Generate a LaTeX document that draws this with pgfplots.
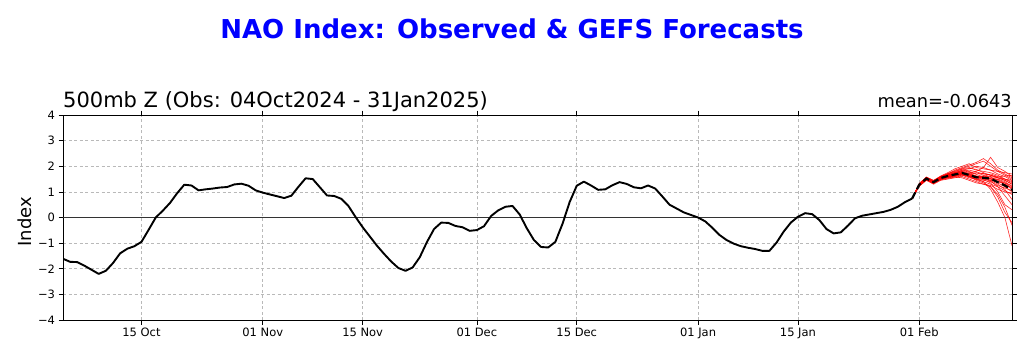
\documentclass[border=0pt]{standalone}
\usepackage{pgfplots}
\pgfplotsset{compat=1.18}
\usepackage{pgfplotstable}
\usepackage{fontspec}
\setmainfont{DejaVu Sans}
\definecolor{titleblue}{RGB}{0,0,255}
\definecolor{ensred}{RGB}{255,0,0}

% observed NAO index, day = days since 1 Oct 2024
\pgfplotstableread{
d v
3 -1.61
4 -1.73
5 -1.74
6 -1.88
7 -2.04
8 -2.20
9 -2.08
10 -1.78
11 -1.40
12 -1.22
13 -1.12
14 -0.95
15 -0.48
16 0.00
17 0.27
18 0.57
19 0.95
20 1.28
21 1.25
22 1.06
23 1.10
24 1.13
25 1.17
26 1.19
27 1.29
28 1.32
29 1.24
30 1.06
31 0.97
32 0.90
33 0.83
34 0.76
35 0.85
36 1.20
37 1.53
38 1.50
39 1.18
40 0.86
41 0.84
42 0.73
43 0.45
44 0.02
45 -0.38
46 -0.74
47 -1.10
48 -1.42
49 -1.72
50 -1.97
51 -2.08
52 -1.95
53 -1.55
54 -0.96
55 -0.45
56 -0.20
57 -0.21
58 -0.33
59 -0.38
60 -0.52
61 -0.49
62 -0.34
63 0.06
64 0.28
65 0.42
66 0.45
67 0.12
68 -0.42
69 -0.88
70 -1.15
71 -1.17
72 -0.95
73 -0.25
74 0.60
75 1.24
76 1.40
77 1.25
78 1.08
79 1.10
80 1.26
81 1.38
82 1.31
83 1.18
84 1.14
85 1.25
86 1.13
87 0.82
88 0.50
89 0.35
90 0.20
91 0.10
92 0.00
93 -0.15
94 -0.40
95 -0.68
96 -0.88
97 -1.02
98 -1.12
99 -1.18
100 -1.23
101 -1.30
102 -1.30
103 -0.98
104 -0.55
105 -0.20
106 0.03
107 0.17
108 0.13
109 -0.10
110 -0.45
111 -0.62
112 -0.58
113 -0.32
114 -0.03
115 0.07
116 0.12
117 0.17
118 0.22
119 0.30
120 0.42
121 0.60
122 0.74
}\obs

% GEFS ensemble members
\pgfplotstableread{
d m1 m2 m3 m4 m5 m6 m7 m8 m9 m10 m11 m12 m13 m14 m15 m16 m17 m18 m19 m20 m21 m22 m23 m24 m25 m26
122 0.74 0.74 0.74 0.74 0.74 0.74 0.74 0.74 0.74 0.74 0.74 0.74 0.74 0.74 0.74 0.74 0.74 0.74 0.74 0.74 0.74 0.74 0.74 0.74 0.74 0.74
123 1.30 1.25 1.32 1.22 1.28 1.26 1.30 1.27 1.29 1.24 1.31 1.28 1.33 1.23 1.29 1.27 1.30 1.26 1.28 1.25 1.32 1.29 1.27 1.30 1.26 1.28
124 1.55 1.48 1.58 1.45 1.52 1.50 1.56 1.50 1.53 1.47 1.54 1.51 1.57 1.46 1.52 1.49 1.55 1.50 1.52 1.48 1.56 1.53 1.51 1.54 1.49 1.52
125 1.40 1.35 1.45 1.30 1.42 1.36 1.44 1.38 1.39 1.33 1.40 1.37 1.44 1.32 1.40 1.36 1.41 1.37 1.39 1.35 1.43 1.38 1.37 1.42 1.35 1.40
126 1.58 1.50 1.60 1.45 1.56 1.52 1.62 1.50 1.55 1.48 1.56 1.53 1.60 1.47 1.57 1.51 1.59 1.52 1.54 1.49 1.58 1.54 1.55 1.57 1.50 1.53
127 1.70 1.60 1.72 1.50 1.65 1.58 1.75 1.55 1.66 1.55 1.60 1.64 1.70 1.52 1.68 1.60 1.70 1.58 1.62 1.56 1.66 1.63 1.65 1.67 1.59 1.61
128 1.85 1.62 1.80 1.55 1.75 1.60 1.90 1.58 1.72 1.62 1.65 1.70 1.78 1.58 1.76 1.66 1.82 1.64 1.70 1.62 1.74 1.68 1.72 1.74 1.66 1.67
129 1.95 1.70 1.90 1.60 1.85 1.65 2.00 1.62 1.78 1.72 1.70 1.80 1.88 1.55 1.82 1.72 1.92 1.68 1.76 1.66 1.80 1.70 1.75 1.84 1.74 1.73
130 2.05 1.60 1.95 1.50 1.80 1.55 2.10 1.70 1.68 1.75 1.62 1.72 1.90 1.45 1.78 1.62 2.00 1.58 1.70 1.60 1.85 1.60 1.65 1.92 1.66 1.67
131 2.15 1.45 1.85 1.40 1.70 1.50 1.95 1.75 1.60 1.80 1.52 1.62 2.00 1.35 1.68 1.55 2.10 1.48 1.62 1.58 1.78 1.50 1.55 1.88 1.60 1.58
132 2.30 1.35 1.80 1.30 1.72 1.40 1.90 1.65 1.62 1.95 1.48 1.55 1.95 1.30 1.58 1.60 2.20 1.40 1.56 1.62 1.70 1.45 1.50 1.75 1.52 1.54
133 2.10 1.20 1.75 1.25 1.65 1.10 1.85 1.50 1.58 2.35 1.35 1.50 1.85 1.20 1.52 1.70 2.00 1.30 1.45 1.60 1.65 1.40 1.45 1.65 1.42 1.55
134 1.85 0.90 1.65 1.10 1.55 0.60 1.80 1.35 1.45 1.95 1.00 1.40 1.70 0.80 1.50 1.60 1.80 1.20 1.30 1.55 1.58 1.25 1.40 1.55 1.20 1.48
135 1.70 0.40 1.50 1.00 1.45 0.00 1.75 1.20 1.30 1.80 0.50 1.35 1.60 0.20 1.40 1.50 1.65 1.05 1.10 1.45 1.62 1.15 1.30 1.50 0.85 1.35
136 1.55 -0.30 1.40 0.95 1.30 -1.10 1.70 1.00 1.15 1.60 0.30 1.25 1.45 -0.20 1.20 1.35 1.50 0.90 0.70 1.30 1.65 1.05 1.10 1.45 0.50 1.15
}\ens

% ensemble mean
\pgfplotstableread{
d v
122 0.74
123 1.28
124 1.52
125 1.38
126 1.54
127 1.62
128 1.68
129 1.74
130 1.66
131 1.57
132 1.55
133 1.52
134 1.38
135 1.25
136 1.08
}\ensmean

\begin{document}
\begin{tikzpicture}
\path[use as bounding box] (0,0) rectangle (1024pt,357pt);
\begin{axis}[
  at={(63pt,37pt)}, anchor=south west,
  scale only axis, width=949pt, height=205pt,
  xmin=3, xmax=136, ymin=-4, ymax=4,
  xtick={14,31,45,61,75,92,106,123},
  xticklabels={15 Oct,01 Nov,15 Nov,01 Dec,15 Dec,01 Jan,15 Jan,01 Feb},
  ytick={-4,-3,-2,-1,0,1,2,3,4},
  yticklabels={−4,−3,−2,−1,0,1,2,3,4},
  tick align=outside, major tick length=4.5pt,
  tick style={black, line width=0.7pt},
  ticklabel style={font=\fontsize{11.5}{13}\selectfont},
  /pgf/number format/assume math mode=true,
  grid=major,
  major grid style={dashed, dash pattern=on 3pt off 2.5pt, gray!55, line width=0.6pt},
  axis line style={black, line width=0.8pt},
  ylabel={Index},
  ylabel style={font=\fontsize{18}{20}\selectfont, at={(axis description cs:-0.0337,0.48)}, anchor=base},
  clip=true,
]
\addplot[black!80, line width=0.7pt, forget plot] coordinates {(3,0) (136,0)};
\pgfplotsinvokeforeach{1,...,26}{
  \addplot[ensred, line width=0.6pt, opacity=0.85] table[x=d, y=m#1] {\ens};
}
\addplot[black, line width=1.9pt, line join=round] table[x=d, y=v] {\obs};
\addplot[black, line width=2.2pt, dash pattern=on 7pt off 3.5pt] table[x=d, y=v] {\ensmean};
\end{axis}
\node[anchor=base, text=titleblue, font=\fontsize{26}{30}\selectfont\bfseries] at (512pt,319pt) {NAO Index: Observed \& GEFS Forecasts};
\node[anchor=base west, inner sep=0pt, font=\fontsize{21}{24}\selectfont] at (63pt,250pt) {500mb Z (Obs: 04Oct2024 - 31Jan2025)};
\node[anchor=base east, inner sep=0pt, font=\fontsize{17.8}{20}\selectfont] at (1012pt,250pt) {mean=-0.0643};
\end{tikzpicture}
\end{document}
